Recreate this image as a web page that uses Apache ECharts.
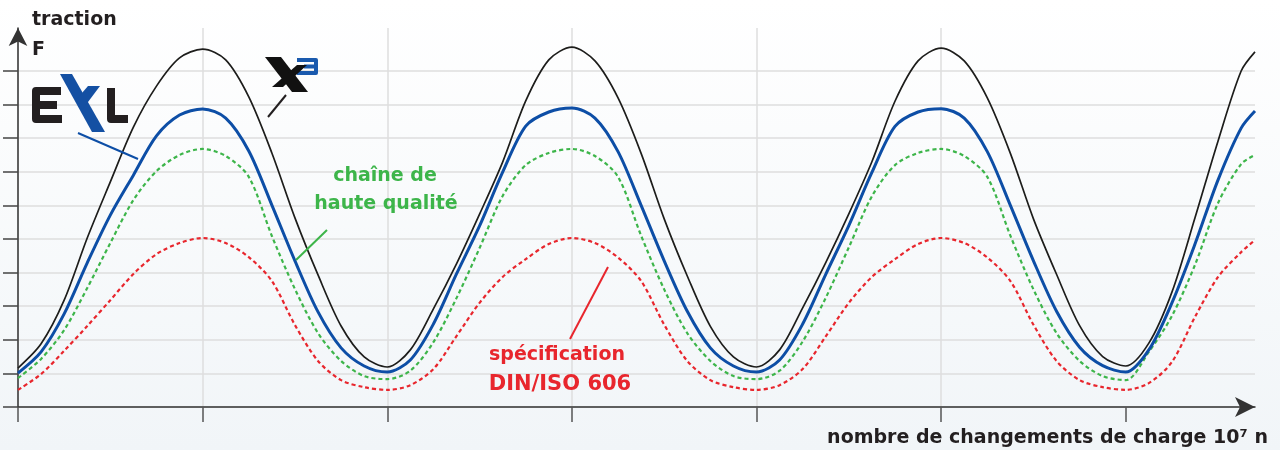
<!DOCTYPE html>
<html>
<head>
<meta charset="utf-8">
<script src="https://cdn.jsdelivr.net/npm/echarts@6/dist/echarts.min.js"></script>
<style>
  html, body { margin: 0; padding: 0; }
  #chart { width: 1280px; height: 450px; }
</style>
</head>
<body>
<div id="chart"></div>
<script>
// x in load-cycle intervals (one vertical gridline step), y in gridline steps
const xs = [
    0, 0.125, 0.25, 0.375, 0.5, 0.625, 0.75, 0.875,
    1, 1.125, 1.25, 1.375, 1.5, 1.625, 1.75, 1.875,
    2, 2.125, 2.25, 2.375, 2.5, 2.625, 2.75, 2.875,
    3, 3.125, 3.25, 3.375, 3.5, 3.625, 3.75, 3.875,
    4, 4.125, 4.25, 4.375, 4.5, 4.625, 4.75, 4.875,
    5, 5.125, 5.25, 5.375, 5.5, 5.625, 5.75, 5.875,
    6, 6.125, 6.25, 6.375, 6.5, 6.625, 6.7,
];
const x3 = [
    1.16, 1.88, 3.18, 5.03, 6.7, 8.33, 9.55, 10.39,
    10.65, 10.33, 9.23, 7.56, 5.63, 3.93, 2.41, 1.49,
    1.19, 1.7, 2.92, 4.26, 5.74, 7.29, 9.11, 10.33,
    10.71, 10.3, 9.2, 7.55, 5.6, 3.9, 2.4, 1.49,
    1.19, 1.7, 2.95, 4.3, 5.75, 7.3, 9.1, 10.3,
    10.68, 10.3, 9.2, 7.55, 5.6, 3.95, 2.42, 1.5,
    1.22, 1.9, 3.42, 5.63, 7.92, 10.0, 10.57,
];
const exl = [
    1.01, 1.64, 2.77, 4.29, 5.71, 6.9, 8.07, 8.69,
    8.87, 8.6, 7.62, 6.01, 4.35, 2.83, 1.76, 1.22,
    1.04, 1.4, 2.47, 3.96, 5.39, 6.99, 8.36, 8.78,
    8.9, 8.6, 7.6, 6.0, 4.35, 2.85, 1.76, 1.22,
    1.04, 1.4, 2.47, 3.95, 5.4, 6.98, 8.35, 8.78,
    8.88, 8.6, 7.6, 6.0, 4.35, 2.85, 1.78, 1.23,
    1.04, 1.7, 3.1, 4.85, 6.76, 8.3, 8.81,
];
const qualite = [
    0.86, 1.43, 2.29, 3.54, 4.88, 6.16, 7.02, 7.5,
    7.68, 7.47, 6.85, 5.09, 3.51, 2.2, 1.37, 0.92,
    0.83, 1.08, 1.93, 3.24, 4.73, 6.28, 7.2, 7.56,
    7.68, 7.47, 6.85, 5.1, 3.5, 2.2, 1.37, 0.92,
    0.83, 1.08, 1.95, 3.25, 4.75, 6.27, 7.2, 7.56,
    7.68, 7.47, 6.85, 5.1, 3.5, 2.2, 1.37, 0.92,
    0.8, 1.64, 2.71, 4.23, 6.07, 7.23, 7.5,
];
const din = [
    0.51, 0.98, 1.67, 2.41, 3.18, 3.96, 4.55, 4.88,
    5.03, 4.88, 4.46, 3.75, 2.44, 1.37, 0.8, 0.59,
    0.51, 0.65, 1.13, 2.11, 3.1, 3.87, 4.4, 4.85,
    5.03, 4.88, 4.45, 3.75, 2.45, 1.37, 0.8, 0.59,
    0.51, 0.65, 1.13, 2.1, 3.1, 3.87, 4.4, 4.85,
    5.03, 4.88, 4.45, 3.75, 2.45, 1.37, 0.8, 0.59,
    0.51, 0.71, 1.34, 2.68, 3.87, 4.61, 4.97,
];
const xTicks = [0, 1, 2, 3, 4, 5, 6];

const pairs = (ys) => xs.map((x, i) => [x, ys[i]]);

const FONT = "DejaVu Sans";
const DARK = "#231f20";
const BLUE = "#0d4ea6";
const LOGO_BLUE = "#1450a3";
const GREEN = "#3db54a";
const RED = "#e8262d";
const GRID = "#dedede";

const chart = echarts.init(document.getElementById("chart"));

const line = (x1, y1, x2, y2, color, width) => ({
    type: "line",
    shape: { x1, y1, x2, y2 },
    style: { stroke: color, lineWidth: width || 2 },
    z: 10,
});
const label = (text, x, y, color, size, align) => ({
    type: "text",
    x, y,
    style: {
        text, fill: color, fontFamily: FONT, fontWeight: "bold", fontSize: size,
        align: align || "left", verticalAlign: "middle",
    },
    z: 10,
});
const stroke = (points, color, width) => ({
    type: "polyline",
    shape: { points },
    style: { stroke: color, lineWidth: width, fill: null, lineJoin: "round" },
    z: 10,
});
const shape = (points, color) => ({
    type: "polygon",
    shape: { points },
    style: { fill: color },
    z: 11,
});

const curve = (name, ys, style) => ({
    name,
    type: "line",
    smooth: 0.3,
    showSymbol: false,
    data: pairs(ys),
    lineStyle: style,
});

const option = {
    animation: false,
    backgroundColor: new echarts.graphic.LinearGradient(0, 0, 0, 1, [
        { offset: 0, color: "#ffffff" },
        { offset: 1, color: "#f1f5f8" },
    ]),
    grid: [
        { left: 18, right: 25, top: 28, bottom: 43 },
        { left: 18, right: 25, top: 71, bottom: 43 },
    ],
    xAxis: [
        {
            gridIndex: 0,
            type: "value",
            min: 0,
            max: 6.7,
            interval: 1,
            axisLine: {
                show: true,
                symbol: ["none", "arrow"],
                symbolSize: [15, 20],
                lineStyle: { color: "#333", width: 1.5 },
            },
            axisTick: {
                show: true,
                length: 15,
                customValues: xTicks,
                lineStyle: { color: "#555", width: 1.5 },
            },
            axisLabel: { show: false, customValues: xTicks },
            splitLine: { show: true, showMaxLine: false, lineStyle: { color: GRID, width: 1.5 } },
        },
        { gridIndex: 1, type: "value", min: 0, max: 1, show: false },
    ],
    yAxis: [
        {
            gridIndex: 0,
            type: "value",
            min: 0,
            max: 11.28,
            axisLine: {
                show: true,
                symbol: ["none", "arrow"],
                symbolSize: [14, 18],
                lineStyle: { color: "#333", width: 1.5 },
            },
            axisTick: { show: false },
            axisLabel: { show: false },
            splitLine: { show: false },
        },
        {
            gridIndex: 1,
            type: "value",
            min: 0,
            max: 10,
            interval: 1,
            axisLine: { show: false },
            axisTick: { show: true, length: 15, lineStyle: { color: "#444", width: 1.5 } },
            axisLabel: { show: false },
            splitLine: { show: true, lineStyle: { color: GRID, width: 1.5 } },
        },
    ],
    series: [
        curve("DIN/ISO 606", din, { color: RED, width: 2.2, type: [4, 3] }),
        curve("chaîne de haute qualité", qualite, { color: GREEN, width: 2.2, type: [4, 3] }),
        curve("EXL", exl, { color: BLUE, width: 3 }),
        curve("X3", x3, { color: "#1d1d1b", width: 1.7 }),
    ],
    graphic: [
        label("traction", 32, 20, DARK, 19),
        label("F", 32, 50, DARK, 19),
        label("nombre de changements de charge 10⁷ n", 1268, 438, DARK, 19, "right"),
        label("chaîne de", 385, 176, GREEN, 19, "center"),
        label("haute qualité", 386, 204, GREEN, 19, "center"),
        label("spécification", 557, 355, RED, 19, "center"),
        label("DIN/ISO 606", 560, 385, RED, 21, "center"),
        line(78, 133, 138, 159, BLUE),
        line(286, 95, 268, 117, DARK),
        line(327, 230, 296, 260, GREEN),
        line(608, 267, 570, 339, RED),
        // EXL logo
        stroke([[61, 91], [36, 91], [36, 119], [62, 119]], DARK, 8),
        line(36, 105, 57, 105, DARK, 8),
        stroke([[111, 88], [111, 119], [128, 119]], DARK, 8),
        shape([[60, 74], [72, 74], [105, 132], [92, 132]], LOGO_BLUE),
        shape([[88, 86], [100, 86], [82, 110], [76, 100]], LOGO_BLUE),
        // X3 logo
        stroke([[297, 60], [316, 60], [316, 73], [297, 73]], "#1a5aae", 4),
        line(304, 66.5, 316, 66.5, "#1a5aae", 4),
        shape([[265, 57], [281, 57], [308, 92], [292, 92]], "#111"),
        shape([[297, 65], [307, 65], [283, 87], [272, 87]], "#111"),
    ],
};

chart.setOption(option);
</script>
</body>
</html>
